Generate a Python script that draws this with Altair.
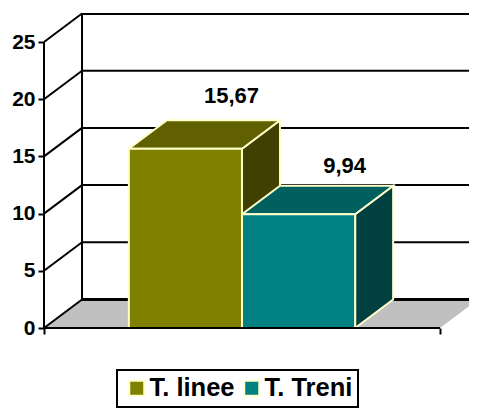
import altair as alt
import pandas as pd

series = ["T. linee", "T. Treni"]
values = [15.67, 9.94]
label_lift = [2.1, 1.75]
y_ticks = [0, 5, 10, 15, 20, 25]
front_colors = ["#808000", "#008080"]
top_colors = ["#606000", "#006060"]
side_colors = ["#404000", "#004040"]

FONT = "Liberation Sans"
EDGE = "#ffffcc"
W, H = 425, 315
PX_PER_UNIT = 11.44
BAR = 113.14
DX = 0.336          # depth of the box in bar widths
DY = 2.49           # depth of the box in value units
GAP = 0.75
SPAN = 3.5
TOP = 25

xs = alt.Scale(domain=[0, W / BAR], nice=False, zero=False)
ys = alt.Scale(domain=[0, H / PX_PER_UNIT], nice=False, zero=False)

x_axis = alt.Axis(
    values=[0, SPAN], labels=False, domain=False, grid=False, title=None,
    tickColor="black", tickWidth=2, tickSize=6)
y_axis = alt.Axis(
    values=y_ticks, domain=False, grid=False, title=None, format="d",
    tickColor="black", tickWidth=2, tickSize=6, labelPadding=3,
    labelFont=FONT, labelFontWeight="bold", labelFontSize=21,
    labelColor="black")


def X(f="x"):
    return alt.X(f"{f}:Q", scale=xs, axis=x_axis)


def Y(f="y"):
    return alt.Y(f"{f}:Q", scale=ys, axis=y_axis)


layers = []

# floor
floor = pd.DataFrame({"y": [0, DY], "x": [0, DX], "x2": [SPAN, SPAN + DX]})
layers.append(
    alt.Chart(floor).mark_area(orient="horizontal", color="#c0c0c0", clip=True)
    .encode(y=Y(), x=X(), x2="x2:Q")
)

# back-wall gridlines
grid = pd.DataFrame({"v": y_ticks})
grid["y"] = grid.v + DY
grid["x"] = DX
grid["x2"] = SPAN + DX
grid["w"] = [3 if v in (0, TOP) else 2 for v in y_ticks]
layers.append(
    alt.Chart(grid).mark_rule(color="black", clip=True)
    .encode(x=X(), x2="x2:Q", y=Y(), strokeWidth=alt.StrokeWidth("w:Q", scale=None))
)

# side-wall diagonals
diag = pd.DataFrame({"y": y_ticks})
diag["x"] = 0
diag["x2"] = DX
diag["y2"] = diag.y + DY
layers.append(
    alt.Chart(diag).mark_rule(color="black", strokeWidth=2)
    .encode(x=X(), x2="x2:Q", y=Y(), y2="y2:Q")
)

# back vertical edge
layers.append(
    alt.Chart(pd.DataFrame({"x": [DX], "y": [DY], "y2": [TOP + DY]}))
    .mark_rule(color="black", strokeWidth=2)
    .encode(x=X(), y=Y(), y2="y2:Q")
)

# front vertical axis line
layers.append(
    alt.Chart(pd.DataFrame({"x": [0], "y": [0], "y2": [TOP]}))
    .mark_rule(color="black", strokeWidth=2)
    .encode(x=X(), y=Y(), y2="y2:Q")
)

# boxes: side and top faces
for i, v in enumerate(values):
    x0 = GAP + i
    x1 = x0 + 1
    side = pd.DataFrame({"x": [x1, x1 + DX], "y": [0, DY], "y2": [v, v + DY]})
    top = pd.DataFrame({"y": [v, v + DY], "x": [x0, x0 + DX], "x2": [x1, x1 + DX]})
    layers.append(
        alt.Chart(side).mark_area(color=side_colors[i], stroke=EDGE, strokeWidth=2)
        .encode(x=X(), y=Y(), y2="y2:Q")
    )
    layers.append(
        alt.Chart(top).mark_area(orient="horizontal", color=top_colors[i], stroke=EDGE, strokeWidth=2)
        .encode(y=Y(), x=X(), x2="x2:Q")
    )

# boxes: front faces, carrying the legend
front = pd.DataFrame({
    "series": series,
    "x": [GAP + i for i in range(len(series))],
    "x2": [GAP + i + 1 for i in range(len(series))],
    "y": [0] * len(series),
    "y2": values,
})
layers.append(
    alt.Chart(front).mark_rect(stroke=EDGE, strokeWidth=2).encode(
        x=X(), x2="x2:Q", y=Y(), y2="y2:Q",
        fill=alt.Fill("series:N", scale=alt.Scale(domain=series, range=front_colors), legend=alt.Legend(
            title=None, orient="none", legendX=73, legendY=357, direction="horizontal", columns=2,
            symbolType="square", symbolSize=225, symbolStrokeColor=EDGE, symbolStrokeWidth=2,
            symbolOpacity=1, symbolOffset=2, labelFont=FONT, labelFontWeight="bold", labelFontSize=25.5,
            labelColor="black", labelLimit=200, labelOffset=0, columnPadding=2, padding=5,
            strokeColor="black", fillColor="white", cornerRadius=0)),
    )
)

# front bottom line
layers.append(
    alt.Chart(pd.DataFrame({"x": [0], "x2": [SPAN], "y": [0]}))
    .mark_rule(color="black", strokeWidth=2)
    .encode(x=X(), x2="x2:Q", y=Y())
)

# value labels
labels = pd.DataFrame({
    "x": [GAP + i + 0.5 + DX for i in range(len(values))],
    "y": [v + DY + l for v, l in zip(values, label_lift)],
    "t": [f"{v:.2f}".replace(".", ",") for v in values],
})
layers.append(
    alt.Chart(labels).mark_text(font=FONT, fontWeight="bold", fontSize=22, color="black", dx=8, baseline="middle")
    .encode(x=X(), y=Y(), text="t:N")
)

chart = (
    alt.layer(*layers)
    .properties(
        width=W, height=H,
        autosize=alt.AutoSizeParams(type="none"),
        padding={"left": 36, "top": 5, "right": 0, "bottom": 80},
    )
    .configure_view(stroke=None)
    .configure_legend(strokeWidth=2)
)

chart.save("out.html", embed_options={"renderer": "svg", "actions": False})
